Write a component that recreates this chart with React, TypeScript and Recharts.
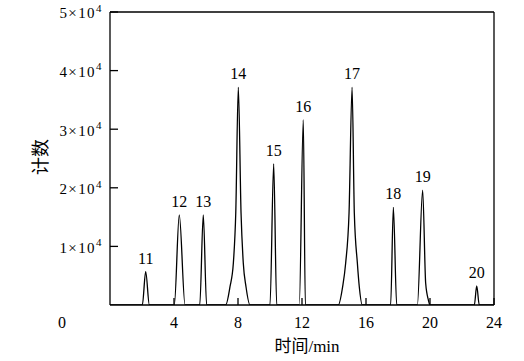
import React from 'react';
import { ComposedChart, Line, XAxis, YAxis, ReferenceLine, ReferenceDot } from 'recharts';

const FONT = "'Liberation Serif', 'Times New Roman', Times, serif";
const CJK = "'Liberation Serif', 'Noto Sans CJK SC', serif";

// chromatogram trace (time in min, counts)
const times = [
  0,
  2.02, 2.23, 2.46,
  4.02, 4.33, 4.69,
  5.61, 5.83, 6.04,
  7.23, 7.5, 7.71, 7.86, 8.02, 8.19, 8.33, 8.5, 8.75,
  10.0, 10.23, 10.42,
  11.83, 12.08, 12.21,
  14.27, 14.54, 14.73, 14.94, 15.13, 15.27, 15.46, 15.58, 15.77,
  17.54, 17.71, 17.92,
  19.21, 19.54, 19.73, 19.9, 20.0,
  22.77, 22.92, 23.08,
  24,
];
const counts = [
  0,
  0, 5680, 0,
  0, 15360, 0,
  0, 15360, 0,
  0, 3120, 7170, 15700, 37150, 15700, 7170, 3120, 0,
  0, 24060, 0,
  0, 31570, 0,
  0, 3120, 7170, 15700, 37150, 15700, 7170, 3120, 0,
  0, 16670, 0,
  0, 19620, 3700, 850, 0,
  0, 3240, 0,
  0,
];

// peak labels
const peakIds = ['11', '12', '13', '14', '15', '16', '17', '18', '19', '20'];
const peakTimes = [2.23, 4.33, 5.83, 8.02, 10.23, 12.08, 15.13, 17.71, 19.54, 22.92];
const peakCounts = [5680, 15360, 15360, 37150, 24060, 31570, 37150, 16670, 19620, 3240];

const xTicks = [4, 8, 12, 16, 20, 24];
const yTicks = [0, 10000, 20000, 30000, 40000, 50000];
const yTickMantissa: Record<number, string> = { 10000: '1', 20000: '2', 30000: '3', 40000: '4', 50000: '5' };

const data = times.map((t, i) => ({ t, c: counts[i] }));

const XTick = (props: any) => {
  const { x, y, payload } = props;
  return (
    <g>
      <line x1={x} y1={y} x2={x} y2={y - 7} stroke="#000" strokeWidth={1.3} />
      <text x={x} y={y + 22.5} textAnchor="middle" style={{ fontFamily: FONT, fontSize: 16 }} fill="#000">
        {payload.value}
      </text>
    </g>
  );
};

const YTick = (props: any) => {
  const { x, y, payload } = props;
  if (payload.value === 0) {
    return (
      <text x={62} y={y + 22.5} textAnchor="middle" style={{ fontFamily: FONT, fontSize: 16 }} fill="#000">
        0
      </text>
    );
  }
  return (
    <g>
      <line x1={x} y1={y} x2={x + 8} y2={y} stroke="#000" strokeWidth={1.3} />
      <text x={x - 8.5} y={y + 6.3} textAnchor="end" style={{ fontFamily: FONT, fontSize: 15, letterSpacing: 1.4 }} fill="#000">
        {yTickMantissa[payload.value]}×10
        <tspan dy={-6.6} style={{ fontSize: 11, letterSpacing: 0 }}>4</tspan>
      </text>
    </g>
  );
};

export default function App() {
  return (
    <div style={{ position: 'absolute', left: 0, top: 0, width: 524, height: 361, background: '#fff', fontFamily: FONT }}>
      <ComposedChart
        width={524}
        height={361}
        data={data}
        margin={{ top: 12, right: 30, left: 50, bottom: 26 }}
        style={{ fontFamily: FONT }}
      >
        <XAxis
          dataKey="t"
          type="number"
          domain={[0, 24]}
          ticks={xTicks}
          tickSize={0}
          tickMargin={0}
          tick={<XTick />}
          stroke="#000"
          strokeWidth={1.3}
          height={30}
          allowDataOverflow
          label={() => (
            <text x={307} y={352} textAnchor="middle" style={{ fontFamily: CJK, fontSize: 17 }} fill="#000">
              时间/min
            </text>
          )}
        />
        <YAxis
          type="number"
          domain={[0, 50000]}
          ticks={yTicks}
          tickSize={0}
          tickMargin={0}
          tick={<YTick />}
          stroke="#000"
          strokeWidth={1.3}
          width={60}
          allowDataOverflow
          label={() => (
            <text
              x={41}
              y={157}
              textAnchor="middle"
              dominantBaseline="central"
              transform="rotate(-90, 41, 157)"
              style={{ fontFamily: CJK, fontSize: 18 }}
              fill="#000"
            >
              计数
            </text>
          )}
        />
        <ReferenceLine y={50000} stroke="#000" strokeWidth={1.3} />
        <ReferenceLine x={24} stroke="#000" strokeWidth={1.3} />
        <Line
          type="monotoneX"
          dataKey="c"
          stroke="#000"
          strokeWidth={1.3}
          dot={false}
          isAnimationActive={false}
        />
        {peakIds.map((id, i) => (
          <ReferenceDot
            key={id}
            x={peakTimes[i]}
            y={peakCounts[i]}
            r={0}
            stroke="none"
            fill="none"
            label={{ value: id, position: 'top', offset: 8, style: { fontFamily: FONT, fontSize: 16 }, fill: '#000' }}
          />
        ))}
      </ComposedChart>
    </div>
  );
}
